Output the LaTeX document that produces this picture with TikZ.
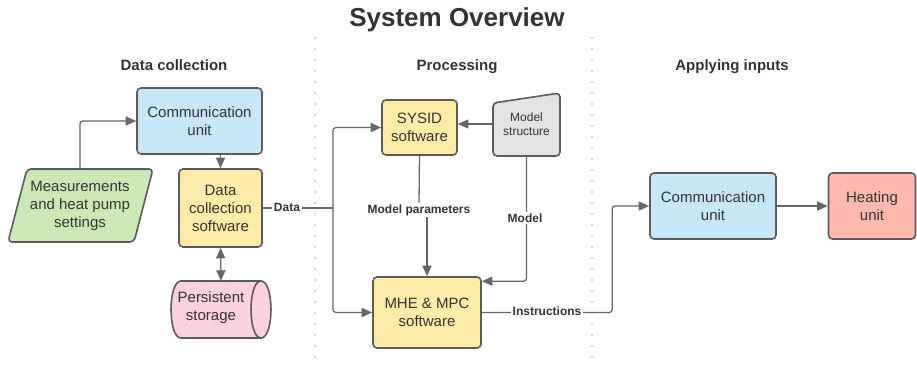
\documentclass[tikz,border=0pt]{standalone}
\usepackage{fontspec}
\setmainfont{Liberation Sans}
\usetikzlibrary{arrows.meta,calc}
\definecolor{bord}{HTML}{5A5A5A}
\definecolor{connc}{HTML}{666666}
\definecolor{txt}{HTML}{333333}
\definecolor{bluec}{HTML}{C7E6F8}
\definecolor{yellowc}{HTML}{FFEBA8}
\definecolor{greenc}{HTML}{CBE8B6}
\definecolor{pinkc}{HTML}{F9D2DE}
\definecolor{salmonc}{HTML}{FFB8AE}
\definecolor{grayc}{HTML}{E3E3E3}
\definecolor{dotc}{HTML}{C8C8C8}
\begin{document}
\begin{tikzpicture}[x=1pt,y=-1pt,
  box/.style={draw=bord, line width=1.6pt, rounded corners=4pt, align=center,
    font=\fontsize{15}{18}\selectfont, text=txt, inner sep=0pt},
  plain/.style={align=center, font=\fontsize{15}{18}\selectfont, text=txt, inner sep=0pt},
  conn/.style={draw=connc, line width=1.3pt, rounded corners=3pt},
  arr/.style={conn, -{Triangle[length=10.5pt,width=9pt]}},
  dbl/.style={conn, {Triangle[length=10.5pt,width=9pt]}-{Triangle[length=10.5pt,width=9pt]}},
  lbl/.style={font=\bfseries\fontsize{12}{14}\selectfont, text=txt, fill=white, inner sep=1.5pt},
  sect/.style={font=\bfseries\fontsize{15}{18}\selectfont, text=txt, anchor=base},
  dotline/.style={draw=dotc, line width=2.4pt, line cap=round, dash pattern=on 0pt off 11pt}]

\useasboundingbox (0,0) rectangle (917,366);

% title and sections
\node[font=\bfseries\fontsize{26}{30}\selectfont, text=txt, anchor=base] (title) at (457,27) {System Overview};
\node[sect] (s1) at (174,71) {Data collection};
\node[sect] (s2) at (457,71) {Processing};
\node[sect] (s3) at (732,71) {Applying inputs};

\draw[dotline] (315,38) -- (315,366);
\draw[dotline] (592,38) -- (592,366);

% data collection
\node[box, fill=bluec, minimum width=125pt, minimum height=66pt] (comm1) at (199.5,121) {Communication\\unit};
\node[box, fill=yellowc, minimum width=83pt, minimum height=78pt] (dcs) at (220.5,208) {Data\\collection\\software};

\filldraw[fill=greenc, draw=bord, line width=1.6pt, rounded corners=4pt]
  (27,169) -- (153,169) -- (134,242) -- (8,242) -- cycle;
\node[plain, minimum width=110pt, minimum height=73pt] (meas) at (80,205.5) {Measurements\\and heat pump\\settings};

\filldraw[fill=pinkc, draw=bord, line width=1.6pt]
  (181,281) -- (261,281) .. controls (274.3,281) and (274.3,338) .. (261,338)
  -- (181,338) .. controls (167.7,338) and (167.7,281) .. (181,281) -- cycle;
\draw[draw=bord, line width=1.6pt] (261,338) .. controls (247.7,338) and (247.7,281) .. (261,281);
\node[minimum width=100pt, minimum height=57pt, inner sep=0pt] (cyl) at (221,309.5) {};
\node[plain] (cyltext) at (211,308) {Persistent\\storage};

% processing
\node[box, fill=yellowc, minimum width=75pt, minimum height=55pt] (sysid) at (419.5,127.5) {SYSID\\software};
\node[box, fill=yellowc, minimum width=108pt, minimum height=71pt] (mhe) at (427,312.5) {MHE \& MPC\\software};

\filldraw[fill=grayc, draw=bord, line width=1.6pt, rounded corners=4pt]
  (493,103) -- (560,93) -- (560,156) -- (493,156) -- cycle;
\node[align=center, font=\fontsize{12}{14}\selectfont, text=txt, inner sep=0pt,
  minimum width=67pt, minimum height=64pt] (ms) at (526.5,124) {Model\\structure};

% applying inputs
\node[box, fill=bluec, minimum width=126pt, minimum height=66pt] (comm2) at (713,206) {Communication\\unit};
\node[box, fill=salmonc, minimum width=87pt, minimum height=66pt] (heat) at (872,206) {Heating\\unit};

% connectors
\draw[arr] (meas.north) |- (comm1.west);
\draw[arr] (comm1.south -| dcs.north) -- (dcs.north);
\draw[dbl] (dcs.south) -- (cyl.north);

\coordinate (split) at (333,208);
\draw[conn] (dcs.east) -- (split);
\draw[arr] (split) |- (sysid.west);
\draw[arr] (split) |- (mhe.west);
\node[lbl] (datalbl) at (287,207) {Data};

\draw[arr] (ms.west) -- (ms.west -| sysid.east);

\node[lbl] (mp) at (419,210) {Model parameters};
\draw[conn] (sysid.south) -- (mp.north);
\draw[arr] (mp.south -| mhe.north) -- (mhe.north);

\draw[arr] (ms.south) |- ($(mhe.north east)+(0,5)$);
\node[lbl] (mlbl) at (525,218) {Model};

\draw[arr] (mhe.east) -| ($(comm2.west)+(-37,0)$) -- (comm2.west);
\node[lbl] (ilbl) at (547,311) {Instructions};

\draw[arr] (comm2.east) -- (heat.west);
\end{tikzpicture}
\end{document}
